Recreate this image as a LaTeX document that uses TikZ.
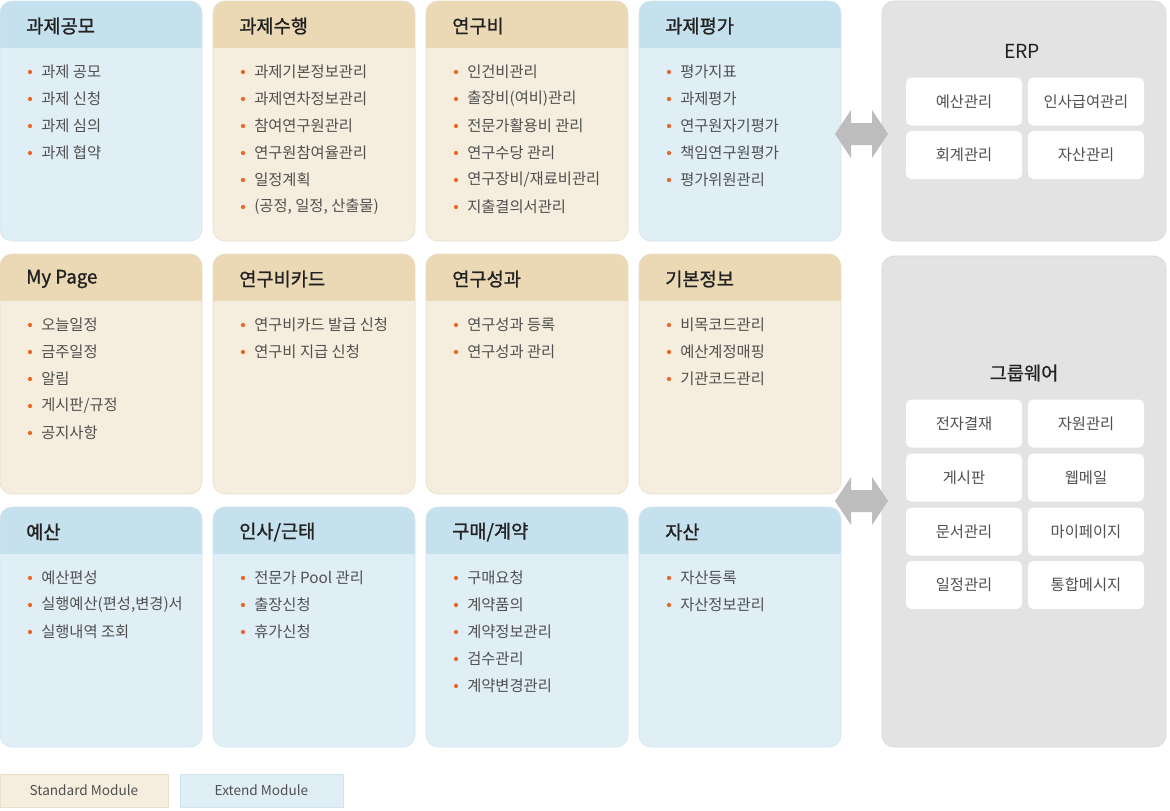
\documentclass[tikz,border=0pt]{standalone}
\usepackage{fontspec}
\setmainfont{Noto Sans CJK KR}
\newfontfamily\hdfont{Noto Sans CJK KR}[FakeBold=1.2]
\newfontfamily\ptfont{Noto Sans CJK KR}[FakeBold=0.6]
\definecolor{bhead}{HTML}{C6E1EE}
\definecolor{bbody}{HTML}{E0EEF6}
\definecolor{bline}{HTML}{D2E5EF}
\definecolor{thead}{HTML}{EBD8B4}
\definecolor{tbody}{HTML}{F5EDDD}
\definecolor{tline}{HTML}{E9DFCB}
\definecolor{gpanel}{HTML}{E3E3E3}
\definecolor{gline}{HTML}{DADADA}
\definecolor{arrowc}{HTML}{BDBDBD}
\definecolor{hdc}{HTML}{222222}
\definecolor{itc}{HTML}{505050}
\definecolor{bul}{HTML}{E8692A}
\tikzset{
  hdtext/.style={anchor=west, inner sep=0pt, font=\hdfont\fontsize{14pt}{16pt}\selectfont, text=hdc},
  itemtext/.style={anchor=west, inner sep=0pt, font=\fontsize{11.5pt}{13pt}\selectfont, text=itc},
  wbox/.style={fill=white, rounded corners=4pt, minimum width=87pt, minimum height=36pt, inner sep=0pt, font=\fontsize{11.5pt}{13pt}\selectfont, text=itc},
  ptitle/.style={inner sep=0pt, font=\ptfont\fontsize{14pt}{16pt}\selectfont, text=hdc},
  erptitle/.style={inner sep=0pt, font=\fontsize{14.5pt}{16pt}\selectfont, text=hdc},
  legbox/.style={inner sep=0pt, minimum height=24.75pt, font=\fontsize{10.2pt}{12pt}\selectfont, text=itc},
  panel/.style={fill=gpanel, draw=gline, line width=0.5pt, rounded corners=9pt},
  dblarrow/.style={fill=arrowc}
}
\newcommand\modbox[6]{%
  \fill[#4body, rounded corners=9pt] (#2,#3) rectangle ++(202,240);
  \begin{scope}
    \clip[rounded corners=9pt] (#2,#3) rectangle ++(202,240);
    \fill[#4head] (#2,#3) rectangle ++(202,47);
  \end{scope}
  \draw[#4line, line width=0.5pt, rounded corners=9pt] (#2,#3) rectangle ++(202,240);
  \node[hdtext] (#1) at (#2+26,#3+25) {#5};
  \foreach \t [count=\i] in {#6} {
    \fill[bul] (#2+30,#3+71+27*\i-27) circle (1.6pt);
    \node[itemtext] (#1-\i) at (#2+41,#3+71+27*\i-27) {\t};
  }%
}
\newcommand\dblarr[1]{%
  \fill[dblarrow] (835,#1) -- (851,#1-24) -- (851,#1-11) -- (872,#1-11) -- (872,#1-24)
    -- (888,#1) -- (872,#1+24) -- (872,#1+11) -- (851,#1+11) -- (851,#1+24) -- cycle;%
}
\begin{document}
\begin{tikzpicture}[x=0.75pt,y=-0.75pt]
\useasboundingbox (0,0) rectangle (1170,810);
\fill[white] (0,0) rectangle (1170,810);

% row 1
\modbox{m11}{0}{1}{b}{과제공모}{과제 공모,과제 신청,과제 심의,과제 협약}
\modbox{m12}{213}{1}{t}{과제수행}{과제기본정보관리,과제연차정보관리,참여연구원관리,연구원참여율관리,일정계획,{(공정, 일정, 산출물)}}
\modbox{m13}{426}{1}{t}{연구비}{인건비관리,출장비(여비)관리,전문가활용비 관리,연구수당 관리,연구장비/재료비관리,지출결의서관리}
\modbox{m14}{639}{1}{b}{과제평가}{평가지표,과제평가,연구원자기평가,책임연구원평가,평가위원관리}
% row 2
\modbox{m21}{0}{254}{t}{My Page}{오늘일정,금주일정,알림,게시판/규정,공지사항}
\modbox{m22}{213}{254}{t}{연구비카드}{연구비카드 발급 신청,연구비 지급 신청}
\modbox{m23}{426}{254}{t}{연구성과}{연구성과 등록,연구성과 관리}
\modbox{m24}{639}{254}{t}{기본정보}{비목코드관리,예산계정매핑,기관코드관리}
% row 3
\modbox{m31}{0}{507}{b}{예산}{예산편성,{실행예산(편성,변경)서},실행내역 조회}
\modbox{m32}{213}{507}{b}{인사/근태}{전문가 Pool 관리,출장신청,휴가신청}
\modbox{m33}{426}{507}{b}{구매/계약}{구매요청,계약품의,계약정보관리,검수관리,계약변경관리}
\modbox{m34}{639}{507}{b}{자산}{자산등록,자산정보관리}

% ERP panel
\draw[panel] (882,1) rectangle (1166,241);
\node[erptitle] (erp) at (1022,51) {ERP};
\node[wbox] (e1) at (964,101.5) {예산관리};
\node[wbox] (e2) at (1086,101.5) {인사급여관리};
\node[wbox] (e3) at (964,155) {회계관리};
\node[wbox] (e4) at (1086,155) {자산관리};

% Groupware panel
\draw[panel] (882,256) rectangle (1166,747);
\node[ptitle] (gw) at (1024,373) {그룹웨어};
\node[wbox] (g1) at (964,423.5) {전자결재};
\node[wbox] (g2) at (1086,423.5) {자원관리};
\node[wbox] (g3) at (964,477.5) {게시판};
\node[wbox] (g4) at (1086,477.5) {웹메일};
\node[wbox] (g5) at (964,531.5) {문서관리};
\node[wbox] (g6) at (1086,531.5) {마이페이지};
\node[wbox] (g7) at (964,585) {일정관리};
\node[wbox] (g8) at (1086,585) {통합메시지};

% arrows
\dblarr{134}
\dblarr{501}

% legend
\node[legbox, fill=tbody, draw=tline, minimum width=126pt] (std) at (84,790.5) {Standard Module};
\node[legbox, fill=bbody, draw=bline, minimum width=122.25pt] (ext) at (261.5,790.5) {Extend Module};
\end{tikzpicture}
\end{document}
